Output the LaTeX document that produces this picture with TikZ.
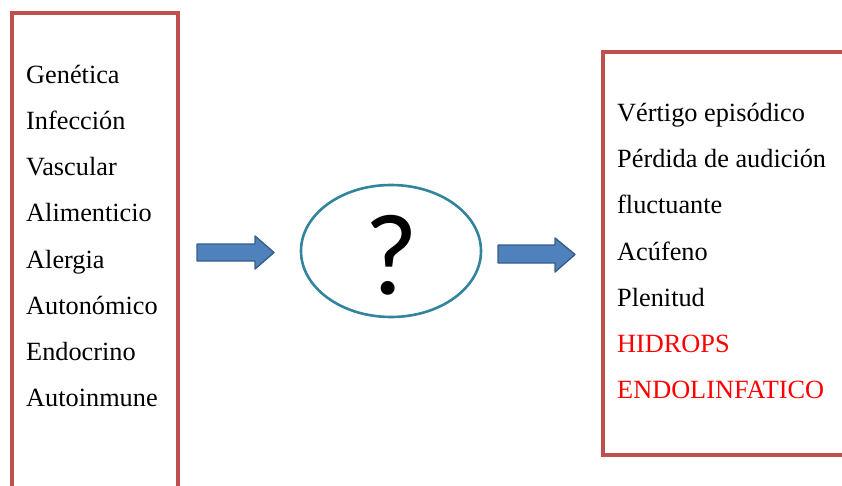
\documentclass[tikz,border=0pt]{standalone}
\usepackage{fontspec}
\setmainfont{Liberation Serif}
\newfontfamily\qfont{Carlito}
\definecolor{boxred}{HTML}{C0504D}
\definecolor{ovalteal}{HTML}{31849B}
\definecolor{arrfill}{HTML}{4F81BD}
\definecolor{arrline}{HTML}{385D8A}
\definecolor{hred}{HTML}{FF0000}
\begin{document}
\begin{tikzpicture}[x=1pt,y=-1pt,
  listbox/.style={draw=boxred,line width=3.2pt},
  item/.style={anchor=base west,inner sep=0pt,font=\fontsize{26.3}{30}\selectfont},
  blockarrow/.style={fill=arrfill,draw=arrline,line width=1.4pt,line join=round},
  oval/.style={draw=ovalteal,line width=2.6pt}]
\useasboundingbox (0,0) rectangle (842,486);
% boxes
\draw[listbox] (12,500) -- (12,13) -- (178,13) -- (178,500);
\draw[listbox] (845,52) -- (603,52) -- (603,455) -- (845,455);
% left items
\node[item] (l1) at (26,84) {Genética};
\node[item] (l2) at (26,130) {Infección};
\node[item] (l3) at (26,176) {Vascular};
\node[item] (l4) at (26,222) {Alimenticio};
\node[item] (l5) at (26,268) {Alergia};
\node[item] (l6) at (26,314) {Autonómico};
\node[item] (l7) at (26,360) {Endocrino};
\node[item] (l8) at (26,406) {Autoinmune};
% right items
\node[item] (r1) at (617,122) {Vértigo episódico};
\node[item] (r2) at (617,168) {Pérdida de audición};
\node[item] (r3) at (617,214) {fluctuante};
\node[item] (r4) at (617,260) {Acúfeno};
\node[item] (r5) at (617,306) {Plenitud};
\node[item,text=hred] (r6) at (617,352) {HIDROPS};
\node[item,text=hred] (r7) at (617,398) {ENDOLINFATICO};
% oval
\draw[oval] (391,251) ellipse [x radius=90, y radius=66];
\node[font=\qfont\fontsize{116}{116}\selectfont,inner sep=0pt] (q) at (391,255) {?};
% arrows
\draw[blockarrow] (197,244) -- (255,244) -- (255,236) -- (274,252.5) -- (255,269) -- (255,261) -- (197,261) -- cycle;
\draw[blockarrow] (498,245) -- (555,245) -- (555,238) -- (575,254.5) -- (555,272) -- (555,263) -- (498,263) -- cycle;
\end{tikzpicture}
\end{document}
